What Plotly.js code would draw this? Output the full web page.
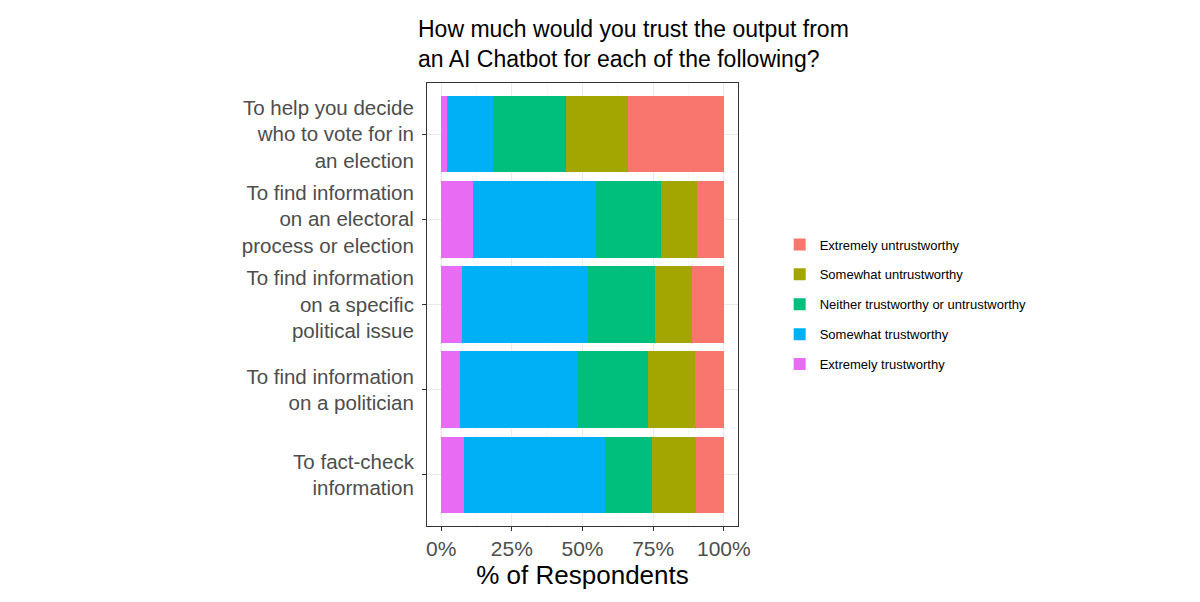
<!DOCTYPE html>
<html>
<head>
<meta charset="utf-8">
<script src="https://cdn.plot.ly/plotly-3.0.1.min.js"></script>
<style>
  html, body { margin: 0; padding: 0; background: #fff; }
  #chart { width: 1200px; height: 602px; }
</style>
</head>
<body>
<div id="chart"></div>
<script>
// categories, top to bottom
const questions = [
    'To help you decide<br>who to vote for in<br>an election',
    'To find information<br>on an electoral<br>process or election',
    'To find information<br>on a specific<br>political issue',
    'To find information<br>on a politician',
    'To fact-check<br>information'
];

// % of respondents per answer
const extremelyTrust   = [2.0, 11.2, 7.3, 6.5, 8.2];
const somewhatTrust    = [16.2, 43.6, 44.5, 41.8, 49.9];
const neither          = [25.8, 22.8, 23.7, 24.9, 16.4];
const somewhatUntrust  = [22.0, 12.8, 13.3, 16.5, 15.5];
const extremelyUntrust = [34.0, 9.6, 11.2, 10.3, 10.0];

const xTicks = [0, 25, 50, 75, 100];
const xTickLabels = ['0%', '25%', '50%', '75%', '100%'];

const FONT = 'Liberation Sans, Arial, Helvetica, sans-serif';

function barTrace(name, values, color, rank) {
    return {
        type: 'bar', orientation: 'h',
        x: values, y: questions,
        name: name, legendgroup: name, legendrank: rank,
        marker: { color: color, line: { width: 0 } },
        hoverinfo: 'x+name'
    };
}

// stack order: left to right; legend lists them the other way round
const traces = [
    barTrace('Extremely trustworthy', extremelyTrust, '#E76BF3', 5),
    barTrace('Somewhat trustworthy', somewhatTrust, '#00B0F6', 4),
    barTrace('Neither trustworthy or untrustworthy', neither, '#00BF7D', 3),
    barTrace('Somewhat untrustworthy', somewhatUntrust, '#A3A500', 2),
    barTrace('Extremely untrustworthy', extremelyUntrust, '#F8766D', 1)
];

const layout = {
    width: 1200, height: 602,
    paper_bgcolor: '#fff', plot_bgcolor: '#fff',
    font: { family: FONT, color: '#000' },
    margin: { l: 427, r: 462, t: 83, b: 76 },
    barmode: 'stack', bargap: 0.1,
    title: {
        text: 'How much would you trust the output from<br>an AI Chatbot for each of the following?',
        font: { size: 23, color: '#000', family: FONT },
        xref: 'container', x: 418 / 1200, xanchor: 'left',
        yref: 'container', y: 1 - 37 / 602, yanchor: 'top'
    },
    xaxis: {
        range: [-5, 105], fixedrange: true,
        tickvals: xTicks, ticktext: xTickLabels,
        ticks: 'outside', ticklen: 4, tickcolor: '#333', tickwidth: 1,
        tickfont: { size: 21, color: '#4d4d4d' },
        showgrid: true, gridcolor: '#ebebeb', gridwidth: 1,
        minor: { dtick: 12.5, tick0: 12.5, showgrid: true, gridcolor: '#f3f3f3', gridwidth: 0.6, ticks: '' },
        showline: true, mirror: true, linecolor: '#333', linewidth: 1,
        zeroline: false,
        title: { text: '% of Respondents', font: { size: 26, color: '#000' }, standoff: 4 }
    },
    yaxis: {
        type: 'category', range: [4.6, -0.6], fixedrange: true,
        ticks: 'outside', ticklen: 4, tickcolor: '#333', tickwidth: 1,
        ticklabelstandoff: 4,
        tickfont: { size: 20.5, color: '#4d4d4d' },
        showgrid: true, gridcolor: '#ebebeb', gridwidth: 1,
        showline: true, mirror: true, linecolor: '#333', linewidth: 1,
        zeroline: false
    },
    showlegend: true,
    legend: {
        traceorder: 'grouped', tracegroupgap: 10,
        x: 1.134, xanchor: 'left', y: 0.5, yanchor: 'middle',
        font: { size: 13, color: '#000' },
        bgcolor: 'rgba(0,0,0,0)'
    }
};

Plotly.newPlot('chart', traces, layout, { displayModeBar: false, staticPlot: true });
</script>
</body>
</html>
